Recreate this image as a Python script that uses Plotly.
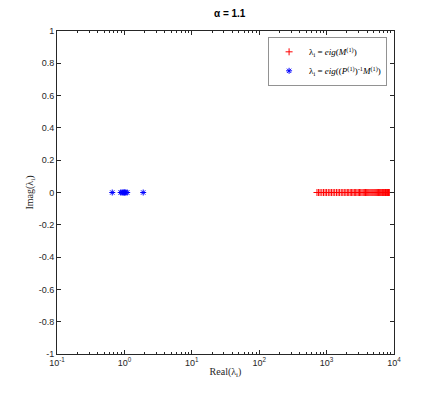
import plotly.graph_objects as go

# eigenvalues of M^(1) (real parts, imaginary parts are zero)
red_real = [720, 760, 800, 850, 900, 950, 1000, 1060, 1120, 1180, 1250, 1320,
            1400, 1480, 1560, 1650, 1740, 1830, 1930, 2030, 2130, 2240, 2350,
            2460, 2580, 2700, 2820, 2950, 3080, 3210, 3350, 3490, 3630, 3780,
            3930, 4080, 4230, 4390, 4550, 4710, 4870, 5040, 5210, 5380, 5550,
            5720, 5900, 6070, 6250, 6420, 6600, 6780, 6950, 7130, 7300, 7480,
            7650, 7820, 7980, 8140, 8280, 8400, 8500]
red_imag = [0] * len(red_real)

# eigenvalues of the preconditioned matrix
blue_real = [0.66, 0.88, 0.92, 0.95, 0.98, 1.0, 1.02, 1.05, 1.1, 1.9]
blue_imag = [0] * len(blue_real)

x_ticks = [0.1, 1, 10, 100, 1000, 10000]
x_labels = ["10<sup>-1</sup>", "10<sup>0</sup>", "10<sup>1</sup>",
            "10<sup>2</sup>", "10<sup>3</sup>", "10<sup>4</sup>"]
x_minor = [m * 10 ** e for e in range(-1, 4) for m in range(2, 10)]
y_ticks = [-1, -0.8, -0.6, -0.4, -0.2, 0, 0.2, 0.4, 0.6, 0.8, 1]
y_labels = ["-1", "-0.8", "-0.6", "-0.4", "-0.2", "0", "0.2", "0.4", "0.6", "0.8", "1"]

serif = "Liberation Serif"
sans = "Liberation Sans"

fig = go.Figure()
fig.add_trace(go.Scatter(
    x=red_real, y=red_imag, mode="markers",
    name="λ<sub>i</sub> = <i>eig</i>(<i>M</i><sup>(1)</sup>)",
    marker=dict(symbol="cross-thin", size=5, color="#ff0000",
                line=dict(color="#ff0000", width=1)),
))
fig.add_trace(go.Scatter(
    x=blue_real, y=blue_imag, mode="markers",
    name="λ<sub>i</sub> = <i>eig</i>((<i>P</i><sup>(1)</sup>)<sup>-1</sup><i>M</i><sup>(1)</sup>)",
    marker=dict(symbol="asterisk-open", size=5, color="#0000ff",
                line=dict(color="#0000ff", width=1)),
))

axis_common = dict(
    showgrid=False, zeroline=False, showline=True, linecolor="#262626",
    linewidth=1, mirror="ticks", ticks="inside", ticklen=4, tickcolor="#262626",
    tickfont=dict(family=sans, size=9, color="#262626"), automargin=False,
)

fig.update_layout(
    width=428, height=391,
    margin=dict(l=49, r=42, t=23, b=45),
    paper_bgcolor="white", plot_bgcolor="white",
    title=dict(text="<b>α = 1.1</b>", x=0.518, xanchor="center", y=0.987,
               yanchor="middle", font=dict(family=sans, size=10, color="black")),
    xaxis=dict(
        type="log", range=[-1, 4], tickmode="array", tickvals=x_ticks,
        ticktext=x_labels,
        minor=dict(tickmode="array", tickvals=x_minor, ticks="inside",
                   ticklen=2, tickcolor="#262626"),
        title=dict(text="Real(λ<sub>i</sub>)", font=dict(family=serif, size=10, color="#262626"),
                   standoff=1),
        **axis_common,
    ),
    yaxis=dict(
        range=[-1, 1], tickmode="array", tickvals=y_ticks, ticktext=y_labels,
        title=dict(text="Imag(λ<sub>i</sub>)", font=dict(family=serif, size=10, color="#262626"),
                   standoff=3),
        **axis_common,
    ),
    legend=dict(
        x=0.978, xanchor="right", y=0.982, yanchor="top",
        bgcolor="white", bordercolor="#262626", borderwidth=0.5,
        font=dict(family=serif, size=9, color="black"),
        tracegroupgap=0, itemwidth=30,
    ),
    showlegend=True,
)

fig.write_html("out.html")
